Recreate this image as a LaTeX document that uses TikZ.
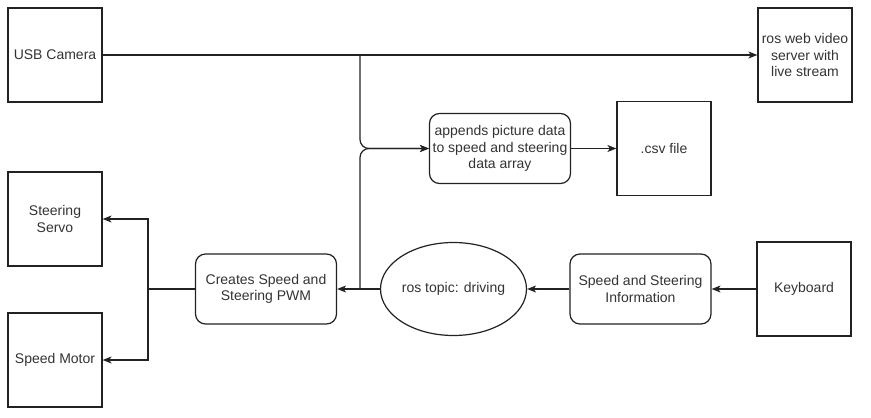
\documentclass[tikz,border=0pt]{standalone}
\usepackage{fontspec}
\setmainfont{Liberation Sans}
\usetikzlibrary{shapes.geometric,arrows.meta,calc}
\definecolor{txt}{HTML}{333333}
\definecolor{ln}{HTML}{222222}
\begin{document}
\begin{tikzpicture}[x=1pt,y=-1pt,
  every node/.style={font=\fontsize{14}{16.5}\selectfont, text=txt, align=center, inner sep=0pt},
  sqbox/.style={draw=ln, line width=1.2pt, minimum width=94pt, minimum height=94pt},
  rbox/.style={draw=ln, line width=1.2pt, rounded corners=10pt, minimum width=141pt, minimum height=70pt},
  ell/.style={draw=ln, line width=1.2pt, ellipse, minimum width=141pt, minimum height=93pt},
  conn/.style={draw=ln, line width=1.2pt, -{Stealth[length=9pt,width=7pt,inset=2.5pt]}},
  plain/.style={draw=ln, line width=1.2pt}]
\useasboundingbox (0,0) rectangle (871,418);
\node[sqbox] (cam) at (55,55) {USB Camera};
\node[sqbox] (srv) at (805,55) {ros web video\\server with\\live stream};
\node[rbox] (app) at (500,148.5) {appends picture data\\to speed and steering\\data array};
\node[sqbox] (csv) at (664,148.5) {.csv file};
\node[sqbox] (servo) at (55,219) {Steering\\Servo};
\node[sqbox] (motor) at (55,360) {Speed Motor};
\node[rbox] (pwm) at (266,289) {Creates Speed and\\Steering PWM};
\node[ell] (topic) at (453.5,289) {ros topic: driving};
\node[rbox] (info) at (640.5,289) {Speed and Steering\\Information};
\node[sqbox] (kb) at (804,289) {Keyboard};
\coordinate (jx) at (360,148.5);
\coordinate (bx) at (148,289);
\draw[conn] (cam.east) -- (srv.west);
\draw[conn] (cam.east) -- (cam.east -| jx) -- ($(jx)+(0,-9)$) to[out=-90,in=180] ($(jx)+(9,0)$) -- (app.west);
\draw[conn] (topic.west) -- (topic.west -| jx) -- ($(jx)+(0,9)$) to[out=90,in=180] ($(jx)+(9,0)$) -- (app.west);
\draw[conn] (app.east) -- (csv.west);
\draw[conn] (kb.west) -- (info.east);
\draw[conn] (info.west) -- (topic.east);
\draw[conn] (topic.west) -- (pwm.east);
\draw[plain] (pwm.west) -- (bx);
\draw[conn] (bx) |- (servo.east);
\draw[conn] (bx) |- (motor.east);
\end{tikzpicture}
\end{document}
